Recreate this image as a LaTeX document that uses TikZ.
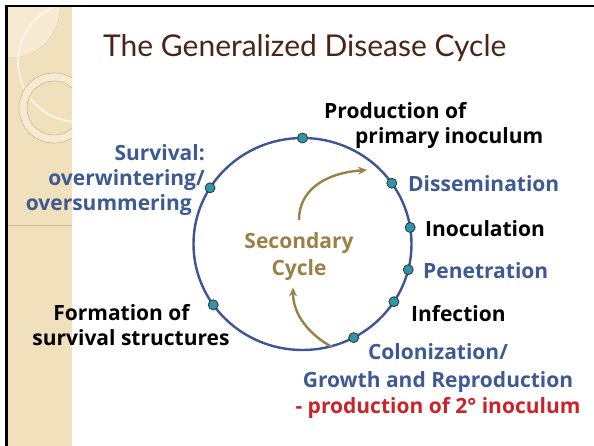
\documentclass[tikz,border=0pt]{standalone}
\usepackage{fontspec}
\setmainfont{Lato}
\newfontfamily\stagefont{Open Sans}
\usetikzlibrary{positioning,calc,arrows.meta}
\definecolor{stageblue}{HTML}{3F5A93}
\definecolor{ringblue}{HTML}{3D5595}
\definecolor{dotteal}{HTML}{2E96A6}
\definecolor{cyclegold}{HTML}{9A8246}
\definecolor{inocred}{HTML}{CC2229}
\definecolor{titlebrown}{HTML}{4A2417}
\definecolor{stripbeige}{HTML}{F1E0BC}
\definecolor{striplight}{HTML}{F6EAD2}
\definecolor{stripline}{HTML}{CDB891}
\tikzstyle{stage} = [circle, draw=black!80, fill=dotteal, line width=0.8pt, minimum size=10pt, inner sep=0pt]
\tikzstyle{blacklabel} = [font=\stagefont\fontsize{21}{25}\selectfont\bfseries, text=black, inner sep=0pt]
\tikzstyle{bluelabel} = [blacklabel, text=stageblue]
\tikzstyle{to} = [-{Stealth[length=9pt,width=8pt,inset=3pt]}, line width=2.4pt, cyclegold]

\begin{document}
\begin{tikzpicture}[x=1pt, y=-1pt]
	\useasboundingbox (0,0) rectangle (594,446);
	% side strip
	\fill[stripbeige] (7,6) rectangle (72,446);
	\begin{scope}
		\clip (7,6) rectangle (72,446);
		\fill[striplight] (10,8) circle[radius=50pt];
		\draw[stripline!60, line width=0.5pt] (10,8) circle[radius=50pt];
		\draw[white!75!stripbeige, line width=1.6pt] (78,62) circle[radius=60pt];
		\fill[striplight, even odd rule] (54,108) circle[radius=35pt] (54,108) circle[radius=27pt];
		\draw[stripline, line width=0.6pt] (54,108) circle[radius=35pt] (54,108) circle[radius=27pt];
		\draw[stripline, line width=0.8pt] (7,225) -- (72,225);
	\end{scope}
	\draw[line width=2.6pt] (6.5,446) -- (6.5,6) -- (594,6);
	% title
	\node (title) [anchor=base west, inner sep=0pt, font=\fontsize{30}{36}\selectfont, text=titlebrown] at (103,57) {The Generalized Disease Cycle};
	% cycle
	\coordinate (c) at (302.5,244);
	\draw[ringblue, line width=2.4pt] (c) ellipse [x radius=109pt, y radius=106pt];
	\foreach \name/\ang in {prod/90, diss/35, inoc/9, pene/-14, infe/-33, colo/-62, form/215, surv/148}
		\node (\name) [stage] at ($(c)+({109*cos(\ang)},{-106*sin(\ang)})$) {};
	% stage labels
	\node (prodtxt) [blacklabel, anchor=north west, align=left] at (324,102) {Production of\\\hspace*{31pt}primary inoculum};
	\node (disstxt) [bluelabel, anchor=base west] at (408,192) {Dissemination};
	\node (inoctxt) [blacklabel, anchor=base west] at (425,237) {Inoculation};
	\node (penetxt) [bluelabel, anchor=base west] at (423,279) {Penetration};
	\node (infetxt) [blacklabel, anchor=base west] at (411,321) {Infection};
	\node (colotxt) [bluelabel, anchor=north, align=center] at (438,343) {Colonization/\\[3pt]Growth and Reproduction\\[1pt]\textcolor{inocred}{- production of 2° inoculum}};
	\node (formtxt) [blacklabel, anchor=north, align=center] at (131,304) {Formation of\hspace*{19pt}\\survival structures};
	\node (survtxt) [bluelabel, anchor=north east, align=right] at (205,144) {Survival:\\overwintering/\\oversummering\hspace*{13pt}};
	% secondary cycle
	\node (sec) [blacklabel, text=cyclegold, align=center, anchor=north] at (299,232) {Secondary\\[2pt]Cycle};
	\coordinate (secend) at (367,170);
	\coordinate (secfeed) at (332,347);
	\draw [to] ([yshift=12pt]sec.north) .. controls +(0,-30) and +(-42,3) .. (secend);
	\draw [to] (secfeed) .. controls +(-22,-12) and +(0,28) .. ([xshift=-6pt,yshift=-7pt]sec.south);
\end{tikzpicture}
\end{document}
